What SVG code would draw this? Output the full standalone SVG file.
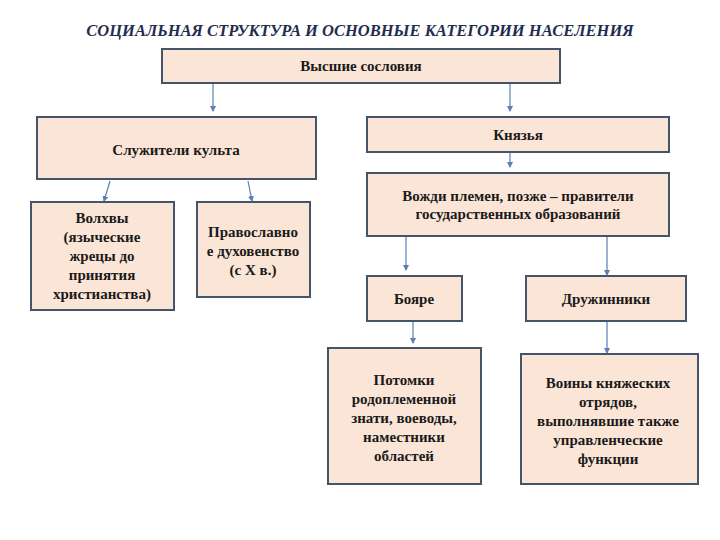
<svg xmlns="http://www.w3.org/2000/svg" width="720" height="540" viewBox="0 0 720 540">
<defs>
<style>
text{font-family:"Liberation Serif","Times New Roman","DejaVu Serif",serif}
.b{fill:#fbe5d6;stroke:#44546a;stroke-width:2}
.t{font-weight:bold;font-size:15px;fill:#1a1a1a;text-anchor:middle}
.c{stroke:#5b7fb0;stroke-width:1.2;fill:none;marker-end:url(#a)}
</style>
<marker id="a" viewBox="0 0 6 6" refX="5" refY="3" markerWidth="5" markerHeight="5" orient="auto"><path d="M0,0L6,3L0,6z" fill="#5b7fb0"/></marker>
</defs>
<rect width="720" height="540" fill="#fff"/>
<text x="360" y="36" font-weight="bold" font-style="italic" font-size="16.5" fill="#1f2d4f" text-anchor="middle">СОЦИАЛЬНАЯ СТРУКТУРА И ОСНОВНЫЕ КАТЕГОРИИ НАСЕЛЕНИЯ</text>
<g id="n1"><rect class="b" x="162" y="49" width="398" height="34"/><text class="t" x="361" y="71">Высшие сословия</text></g>
<g id="n2"><rect class="b" x="37" y="117" width="279" height="62"/><text class="t" x="176" y="155">Служители культа</text></g>
<g id="n3"><rect class="b" x="367" y="117" width="302" height="35"/><text class="t" x="518" y="140">Князья</text></g>
<g id="n4"><rect class="b" x="367" y="173" width="302" height="63"/><text class="t" x="518" y="201">Вожди племен, позже – правители</text><text class="t" x="518" y="219">государственных образований</text></g>
<g id="n5"><rect class="b" x="31" y="202" width="143" height="108"/><text class="t" x="102" y="223">Волхвы</text><text class="t" x="102" y="242">(языческие</text><text class="t" x="102" y="261">жрецы до</text><text class="t" x="102" y="280">принятия</text><text class="t" x="102" y="299">христианства)</text></g>
<g id="n6"><rect class="b" x="197" y="202" width="113" height="95"/><text class="t" x="253" y="237">Православно</text><text class="t" x="253" y="256">е духовенство</text><text class="t" x="253" y="275">(с X в.)</text></g>
<g id="n7"><rect class="b" x="367" y="276" width="95" height="45"/><text class="t" x="414" y="304">Бояре</text></g>
<g id="n8"><rect class="b" x="526" y="276" width="160" height="45"/><text class="t" x="606" y="304">Дружинники</text></g>
<g id="n9"><rect class="b" x="328" y="348" width="153" height="136"/><text class="t" x="404" y="385">Потомки</text><text class="t" x="404" y="404">родоплеменной</text><text class="t" x="404" y="423">знати, воеводы,</text><text class="t" x="404" y="442">наместники</text><text class="t" x="404" y="461">областей</text></g>
<g id="n10"><rect class="b" x="521" y="354" width="177" height="130"/><text class="t" x="608" y="388">Воины княжеских</text><text class="t" x="608" y="407">отрядов,</text><text class="t" x="608" y="426">выполнявшие также</text><text class="t" x="608" y="445">управленческие</text><text class="t" x="608" y="464">функции</text></g>
<g id="connectors">
<path class="c" d="M213,84V111"/>
<path class="c" d="M510,84V111"/>
<path class="c" d="M510,153V167"/>
<path class="c" d="M110,181L104,201"/>
<path class="c" d="M248,181L252,201"/>
<path class="c" d="M406,237V270"/>
<path class="c" d="M607,237V275"/>
<path class="c" d="M413,322V343"/>
<path class="c" d="M607,322V353"/>
</g>
</svg>
